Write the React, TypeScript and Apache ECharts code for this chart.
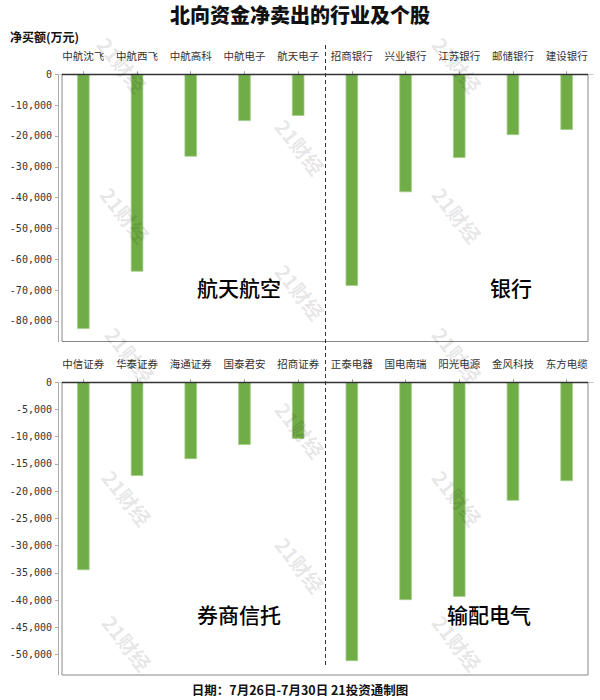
import React, { useEffect, useRef } from 'react';
import * as echarts from 'echarts';

const chartTitle = '北向资金净卖出的行业及个股';
const unitLabel = '净买额(万元)';
const footerText = '日期：7月26日-7月30日 21投资通制图';
const watermarkText = '21财经';

const topCategories = ['中航沈飞', '中航西飞', '中航高科', '中航电子', '航天电子', '招商银行', '兴业银行', '江苏银行', '邮储银行', '建设银行'];
const topValues = [-82600, -64000, -26700, -15150, -13500, -68600, -38250, -27150, -19700, -18050];

const bottomCategories = ['中信证券', '华泰证券', '海通证券', '国泰君安', '招商证券', '正泰电器', '国电南瑞', '阳光电源', '金风科技', '东方电缆'];
const bottomValues = [-34500, -17200, -14100, -11500, -10400, -51200, -40000, -39400, -21750, -18150];

const panelLabels = ['航天航空', '银行', '券商信托', '输配电气'];

const CJK = '"Noto Sans CJK SC", "Noto Sans", sans-serif';
const BAR_COLOR = '#70ad47';

export default function App() {
  const ref = useRef<HTMLDivElement>(null);

  useEffect(() => {
    const chart = echarts.init(ref.current!, null, { renderer: 'svg' });

    const grids = [
      { left: 56.5, width: 537, top: 74.3, height: 267.4 },
      { left: 56.5, width: 537, top: 382.3, height: 292.7 },
    ];
    const frames = [
      { x: 62, y: 74.5, w: 526, h: 267 },
      { x: 62, y: 382.5, w: 526, h: 292.5 },
    ];

    const xAxisFor = (cats: string[], gi: number) => ({
      type: 'category',
      gridIndex: gi,
      data: cats,
      position: 'top',
      offset: 4,
      axisLine: { show: true, lineStyle: { color: '#cccccc', width: 1 } },
      axisTick: { show: true, alignWithLabel: true, length: 3, lineStyle: { color: '#999999' } },
      axisLabel: {
        interval: 0,
        margin: 9.5,
        fontSize: 10.5,
        color: '#333333',
        fontFamily: CJK,
      },
      splitLine: { show: false },
    });

    const yAxisFor = (vals: number[], gi: number, split: number) => ({
      type: 'value',
      gridIndex: gi,
      max: 0,
      min: Math.min(...vals) * 1.05,
      splitNumber: split,
      offset: -1.5,
      axisLine: { show: true, lineStyle: { color: '#aaaaaa', width: 1 } },
      axisTick: { show: true, length: 3, lineStyle: { color: '#aaaaaa' } },
      axisLabel: {
        showMinLabel: false,
        margin: 6,
        fontSize: 10,
        color: '#333333',
        fontFamily: '"DejaVu Sans Mono", monospace',
        formatter: (v: number) => v.toLocaleString('en-US'),
      },
      splitLine: { show: false },
    });

    const watermarkPositions = [
      [122, 65], [125, 215], [130, 355], [127, 498], [127, 643],
      [457, 65], [457, 215], [457, 355], [457, 498], [457, 643],
      [300, 147], [300, 292], [300, 430], [300, 565],
    ];

    const graphics: any[] = [];
    frames.forEach((f) => {
      graphics.push({
        type: 'rect',
        z: 5,
        shape: { x: f.x, y: f.y, width: f.w, height: f.h },
        style: { fill: 'none', stroke: '#888888', lineWidth: 1 },
        silent: true,
      });
      graphics.push({
        type: 'line',
        z: 20,
        shape: { x1: f.x, y1: f.y, x2: f.x + f.w, y2: f.y },
        style: { stroke: '#333333', lineWidth: 1.5 },
        silent: true,
      });
    });
    graphics.push({
      type: 'line',
      z: 20,
      shape: { x1: 325.5, y1: 45, x2: 325.5, y2: 667 },
      style: { stroke: '#333333', lineWidth: 1, lineDash: [4, 3] },
      silent: true,
    });
    graphics.push({
      type: 'text',
      x: 300,
      y: 14,
      z: 30,
      style: {
        text: chartTitle,
        align: 'center',
        verticalAlign: 'middle',
        fontSize: 20,
        fontWeight: 900,
        fontFamily: CJK,
        fill: '#111111',
      },
    });
    graphics.push({
      type: 'text',
      x: 10,
      y: 36,
      z: 30,
      style: {
        text: unitLabel,
        align: 'left',
        verticalAlign: 'middle',
        fontSize: 12,
        fontWeight: 'bold',
        fontFamily: CJK,
        fill: '#111111',
      },
    });
    graphics.push({
      type: 'text',
      x: 300,
      y: 689,
      z: 30,
      style: {
        text: footerText,
        align: 'center',
        verticalAlign: 'middle',
        fontSize: 12.5,
        fontWeight: 'bold',
        fontFamily: CJK,
        fill: '#111111',
      },
    });
    const labelPos = [
      [239, 287], [511, 287], [239, 614], [489, 614],
    ];
    panelLabels.forEach((t, i) => {
      graphics.push({
        type: 'text',
        x: labelPos[i][0],
        y: labelPos[i][1],
        z: 30,
        style: {
          text: t,
          align: 'center',
          verticalAlign: 'middle',
          fontSize: 21,
          fontWeight: 500,
          fontFamily: CJK,
          fill: '#000000',
        },
      });
    });
    watermarkPositions.forEach(([x, y]) => {
      graphics.push({
        type: 'text',
        x,
        y,
        z: 40,
        rotation: -0.9,
        silent: true,
        style: {
          text: watermarkText,
          align: 'center',
          verticalAlign: 'middle',
          fontSize: 20,
          fontWeight: 'bold',
          fontFamily: CJK,
          fill: 'rgba(0,0,0,0.11)',
        },
      });
    });

    const option: any = {
      animation: false,
      backgroundColor: '#ffffff',
      grid: grids.map((g) => ({ ...g, containLabel: false })),
      xAxis: [xAxisFor(topCategories, 0), xAxisFor(bottomCategories, 1)],
      yAxis: [yAxisFor(topValues, 0, 9), yAxisFor(bottomValues, 1, 11)],
      series: [
        {
          type: 'bar',
          xAxisIndex: 0,
          yAxisIndex: 0,
          data: topValues,
          barWidth: 12.5,
          itemStyle: { color: BAR_COLOR, borderColor: '#a3cd89', borderWidth: 0.8 },
        },
        {
          type: 'bar',
          xAxisIndex: 1,
          yAxisIndex: 1,
          data: bottomValues,
          barWidth: 12.5,
          itemStyle: { color: BAR_COLOR, borderColor: '#a3cd89', borderWidth: 0.8 },
        },
      ],
      graphic: graphics,
    };

    chart.setOption(option);
    return () => chart.dispose();
  }, []);

  return (
    <div
      ref={ref}
      style={{ position: 'absolute', left: 0, top: 0, width: 600, height: 700 }}
    />
  );
}
